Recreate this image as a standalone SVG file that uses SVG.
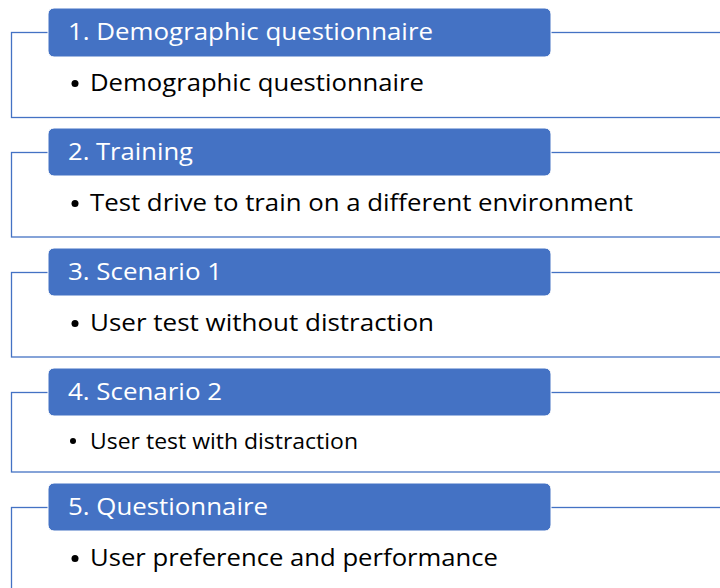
<svg xmlns="http://www.w3.org/2000/svg" width="720" height="588" viewBox="0 0 720 588">
  <style>
    .frame { fill: #ffffff; stroke: #4472C4; stroke-width: 1.3; }
    .head { fill: #4472C4; stroke: #ffffff; stroke-width: 1; }
    .htxt { font-family: "Open Sans", "Noto Sans", "Liberation Sans", sans-serif; font-size: 24px; fill: #ffffff; }
    .btxt { font-family: "Open Sans", "Noto Sans", "Liberation Sans", sans-serif; font-size: 24.5px; fill: #000000; }
    .btxt.small { font-size: 22px; }
    .dot { fill: #000000; }
  </style>
  <rect width="720" height="588" fill="#ffffff"/>

  <!-- step 1 -->
  <g id="step1">
    <rect class="frame" x="11.5" y="32.5" width="730" height="85"/>
    <rect class="head" x="48" y="8" width="503" height="49" rx="6"/>
    <text class="htxt" x="68" y="40" textLength="365" lengthAdjust="spacingAndGlyphs">1. Demographic questionnaire</text>
    <circle class="dot" cx="75" cy="83.5" r="3.5"/>
    <text class="btxt" x="90" y="91" textLength="334" lengthAdjust="spacingAndGlyphs">Demographic questionnaire</text>
  </g>

  <!-- step 2 -->
  <g id="step2">
    <rect class="frame" x="11.5" y="152.5" width="730" height="84.5"/>
    <rect class="head" x="48" y="128" width="503" height="48" rx="6"/>
    <text class="htxt" x="68" y="160" textLength="125" lengthAdjust="spacingAndGlyphs">2. Training</text>
    <circle class="dot" cx="75" cy="203.5" r="3.5"/>
    <text class="btxt" x="90" y="211" textLength="543" lengthAdjust="spacingAndGlyphs">Test drive to train on a different environment</text>
  </g>

  <!-- step 3 -->
  <g id="step3">
    <rect class="frame" x="11.5" y="272.5" width="730" height="84.5"/>
    <rect class="head" x="48" y="248" width="503" height="48" rx="6"/>
    <text class="htxt" x="68" y="280" textLength="154" lengthAdjust="spacingAndGlyphs">3. Scenario 1</text>
    <circle class="dot" cx="75" cy="323.5" r="3.5"/>
    <text class="btxt" x="90" y="331" textLength="344" lengthAdjust="spacingAndGlyphs">User test without distraction</text>
  </g>

  <!-- step 4 -->
  <g id="step4">
    <rect class="frame" x="11.5" y="392.5" width="730" height="79.5"/>
    <rect class="head" x="48" y="368" width="503" height="48" rx="6"/>
    <text class="htxt" x="68" y="400" textLength="154" lengthAdjust="spacingAndGlyphs">4. Scenario 2</text>
    <circle class="dot" cx="73" cy="441" r="3"/>
    <text class="btxt small" x="90" y="449" textLength="268" lengthAdjust="spacingAndGlyphs">User test with distraction</text>
  </g>

  <!-- step 5 -->
  <g id="step5">
    <rect class="frame" x="11.5" y="507.5" width="730" height="100"/>
    <rect class="head" x="48" y="483" width="503" height="48" rx="6"/>
    <text class="htxt" x="68" y="515" textLength="200" lengthAdjust="spacingAndGlyphs">5. Questionnaire</text>
    <circle class="dot" cx="75" cy="558.5" r="3.5"/>
    <text class="btxt" x="90" y="566" textLength="408" lengthAdjust="spacingAndGlyphs">User preference and performance</text>
  </g>

  <!-- no connectors: the steps are stacked frames -->
  <g id="connectors"/>
</svg>
